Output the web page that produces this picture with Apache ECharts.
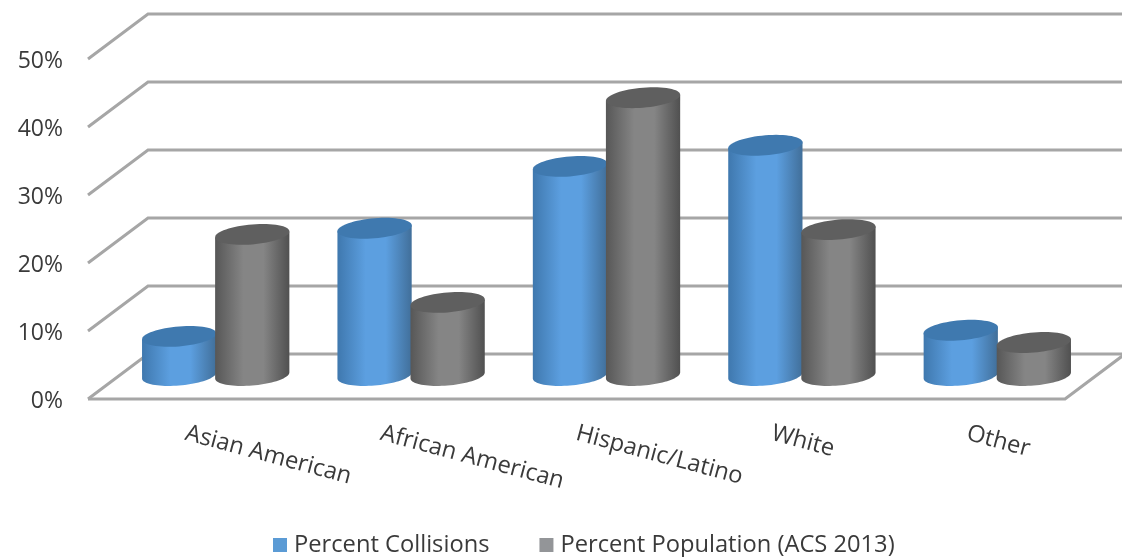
<!DOCTYPE html>
<html><head><meta charset="utf-8">
<script src="https://cdn.jsdelivr.net/npm/echarts@6/dist/echarts.min.js"></script>
<style>html,body{margin:0;padding:0;background:#fff}#c{width:1122px;height:557px}</style>
</head><body><div id="c"></div>
<script>
const categories = ['Asian American','African American','Hispanic/Latino','White','Other'];
const collisions = [5.9,21.8,30.9,34,6.8];
const population = [20.9,10.9,41,21.6,5];
const tickValues = [0,10,20,30,40,50];
const seriesNames = ['Percent Collisions','Percent Population (ACS 2013)'];

const FONT = 'Open Sans';
const DEPTH_X = 60, DEPTH_Y = 45;
const blue = {edgeL:'#3f78ae',mid:'#5c9fe0',edgeR:'#416f9a',top:'#3f79af',legend:'#5b9bd5'};
const grey = {edgeL:'#575757',mid:'#858585',edgeR:'#505050',top:'#5f5f5f',legend:'#939598'};

function ring(cx,cy,a,b,s,t0,t1,n){
  const pts=[];
  for(let i=0;i<=n;i++){
    const t=t0+(t1-t0)*i/n;
    pts.push([cx+a*Math.cos(t), cy+b*Math.sin(t)-s*Math.cos(t)]);
  }
  return pts;
}
function cylinder(side,pal){
  return function(params,api){
    const i=api.value(0), v=api.value(1);
    const top=api.coord([i,v]), base=api.coord([i,0]);
    const bw=api.size([1,0])[0];
    const a=bw*0.19, b=10, s=3;
    const cx=top[0]+DEPTH_X/2+side*bw*0.187;
    const yT=top[1]-DEPTH_Y/2, yB=base[1]-DEPTH_Y/2-1;
    const lower=ring(cx,yB,a,b,s,0,Math.PI,40);
    const body=[[cx+a,yT-s]].concat(lower,[[cx-a,yT+s]]);
    const grad=new echarts.graphic.LinearGradient(0,0,1,0,[
      {offset:0,color:pal.edgeL},{offset:0.38,color:pal.mid},
      {offset:0.65,color:pal.mid},{offset:1,color:pal.edgeR}]);
    return {type:'group',children:[
      {type:'polygon',shape:{points:body},style:{fill:grad}},
      {type:'polygon',shape:{points:ring(cx,yT,a,b,s,0,Math.PI*2,64)},style:{fill:pal.top}}
    ]};
  };
}
function gridRender(params,api){
  const v=api.value(1);
  const y=api.coord([0,v])[1];
  const cs=params.coordSys;
  const xL=cs.x, xR=cs.x+cs.width;
  const children=[{type:'polyline',shape:{points:[[xL,y],[xL+DEPTH_X,y-DEPTH_Y],[1130,y-DEPTH_Y]]},
    style:{stroke:'#a6a6a6',lineWidth:3,fill:null}}];
  if(v===0){
    children.push({type:'polyline',shape:{points:[[xL,y],[xR,y],[xR+DEPTH_X,y-DEPTH_Y]]},
      style:{stroke:'#a6a6a6',lineWidth:3,fill:null}});
  }
  return {type:'group',children};
}
const chart=echarts.init(document.getElementById('c'),null,{renderer:'canvas'});
chart.setOption({
  animation:false,
  backgroundColor:'#fff',
  grid:{left:88,top:59,width:977,height:340,containLabel:false},
  xAxis:{type:'category',data:categories,axisLine:{show:false},axisTick:{show:false},
    axisLabel:{rotate:-15,margin:34,interval:0,fontFamily:FONT,fontSize:23.7,color:'#3a3a3a',hideOverlap:false}},
  yAxis:{type:'value',min:0,max:50,interval:10,axisLine:{show:false},axisTick:{show:false},splitLine:{show:false},
    axisLabel:{formatter:'{t|{value}%}',margin:25,
      rich:{t:{padding:[4,0,0,0],fontFamily:FONT,fontSize:23,color:'#3a3a3a'}}}},
  legend:{left:273,top:533,padding:0,itemWidth:14,itemHeight:14,itemGap:50,icon:'rect',
    textStyle:{fontFamily:FONT,fontSize:23.7,color:'#3a3a3a',padding:[0,0,0,2]},
    data:[{name:seriesNames[0],itemStyle:{color:blue.legend}},{name:seriesNames[1],itemStyle:{color:grey.legend}}]},
  series:[
    {type:'custom',name:'grid',silent:true,z:1,renderItem:gridRender,encode:{x:0,y:1},
      data:tickValues.map(v=>[0,v])},
    {type:'custom',name:seriesNames[0],z:2,renderItem:cylinder(-1,blue),encode:{x:0,y:1},
      itemStyle:{color:blue.legend},data:collisions.map((v,i)=>[i,v])},
    {type:'custom',name:seriesNames[1],z:3,renderItem:cylinder(1,grey),encode:{x:0,y:1},
      itemStyle:{color:grey.legend},data:population.map((v,i)=>[i,v])}
  ]
});
</script></body></html>
